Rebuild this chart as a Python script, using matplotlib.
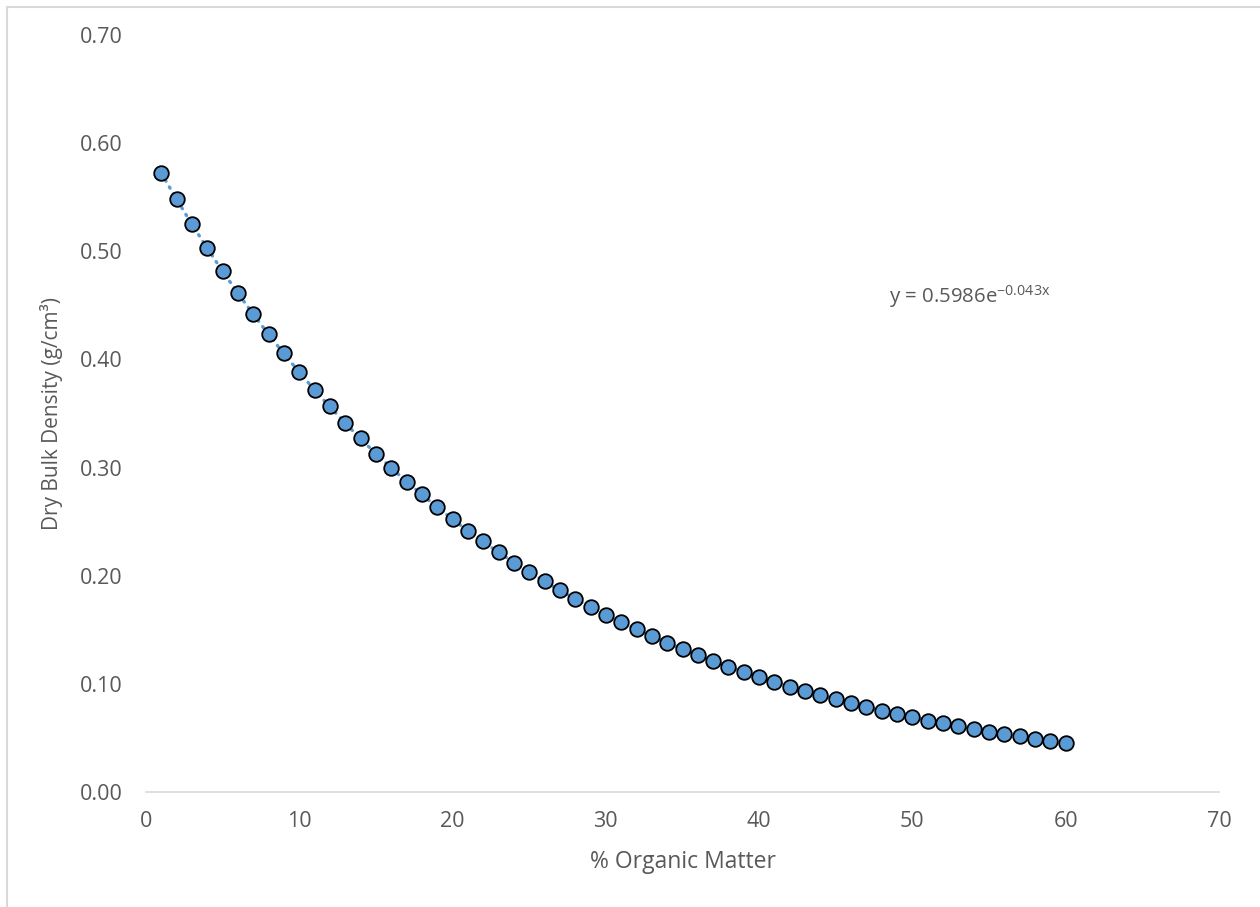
import numpy as np
import matplotlib
matplotlib.use("Agg")
import matplotlib.pyplot as plt
from matplotlib.patches import Rectangle

# % organic matter vs dry bulk density
organic_matter = list(range(1, 61))
bulk_density = [
    0.5725, 0.548, 0.5254, 0.5032, 0.482, 0.4613, 0.4419, 0.4234, 0.4055, 0.3883,
    0.3719, 0.3565, 0.3411, 0.3269, 0.313, 0.2997, 0.2871, 0.2751, 0.2634, 0.2523,
    0.2417, 0.2318, 0.2217, 0.2121, 0.2032, 0.1949, 0.1865, 0.1785, 0.1711, 0.1637,
    0.157, 0.1505, 0.144, 0.1378, 0.132, 0.1264, 0.1209, 0.1159, 0.111, 0.1064,
    0.1018, 0.0974, 0.0932, 0.0895, 0.0858, 0.0821, 0.0784, 0.0752, 0.0722, 0.0691,
    0.066, 0.0636, 0.0608, 0.0583, 0.0558, 0.0534, 0.0515, 0.0493, 0.0472, 0.045,
]
x_ticks = [0, 10, 20, 30, 40, 50, 60, 70]
y_ticks = [0.0, 0.1, 0.2, 0.3, 0.4, 0.5, 0.6, 0.7]
equation = r"y = 0.5986e$^{\mathregular{-0.043x}}$"

plt.rcParams["font.family"] = ["Open Sans", "DejaVu Sans"]
plt.rcParams["mathtext.fontset"] = "custom"
plt.rcParams["mathtext.rm"] = "Open Sans"

W, H = 1260, 907
fig = plt.figure(figsize=(W / 100, H / 100), dpi=100)
ax = fig.add_axes([146 / W, 115 / H, (1219 - 146) / W, (792 - 35) / H])

text_col = "#595959"
blue = "#5B9BD5"

# exponential trendline fitted to the points
x = np.array(organic_matter, dtype=float)
y = np.array(bulk_density)
b, ln_a = np.polyfit(x, np.log(y), 1)
xs = np.linspace(x.min(), x.max(), 300)
ax.plot(xs, np.exp(ln_a) * np.exp(b * xs), color=blue, lw=2.4,
        linestyle=(0, (0.4, 2.0)), dash_capstyle="round", zorder=2)

ax.plot(organic_matter, bulk_density, "o", ms=10.5, mfc=blue, mec="black",
        mew=1.3, zorder=3)

ax.set_xlim(0, 70)
ax.set_ylim(0, 0.70)
ax.set_xticks(x_ticks)
ax.set_yticks(y_ticks)
ax.set_yticklabels([f"{v:.2f}" for v in y_ticks])
ax.tick_params(length=0, labelsize=15.5, colors=text_col)
ax.tick_params(axis="y", pad=17)
ax.tick_params(axis="x", pad=14)

for side in ["top", "right", "left"]:
    ax.spines[side].set_visible(False)
ax.spines["bottom"].set_color("#D9D9D9")
ax.spines["bottom"].set_linewidth(1.2)

ax.set_xlabel("% Organic Matter", fontsize=16.5, color=text_col, labelpad=13)
ax.set_ylabel("Dry Bulk Density (g/cm³)", fontsize=15, color=text_col, labelpad=12)

ax.text(48.5, 0.458, equation, fontsize=14.7, color=text_col, va="center", ha="left")

# chart area border
fig.patches.append(Rectangle((7 / W, -0.1), 1.2, 1.1 - 7 / H,
                             transform=fig.transFigure, fill=False,
                             edgecolor="#D9D9D9", lw=1.5))

fig.savefig("out.png", dpi=100)
